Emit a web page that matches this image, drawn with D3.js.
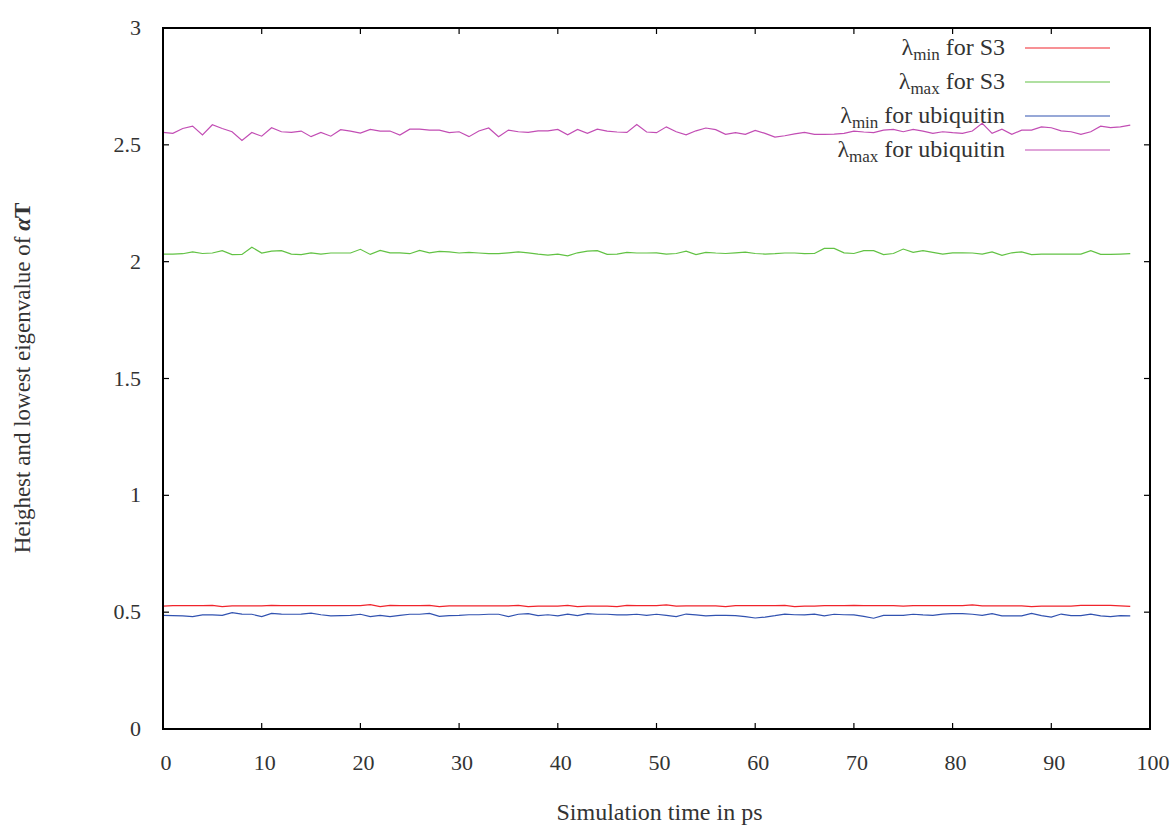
<!DOCTYPE html>
<html>
<head>
<meta charset="utf-8">
<script src="https://cdn.jsdelivr.net/npm/d3@7"></script>
<style>
  body { margin: 0; background: #fff; }
  text { font-family: "Liberation Serif", "DejaVu Serif", serif; fill: #333; }
</style>
</head>
<body>
<svg id="chart" width="1174" height="828"></svg>
<script>
// chart data (one sample per ps, 0..98)
var minS3 = [0.526,0.528,0.528,0.528,0.528,0.529,0.5235,0.527,0.527,0.527,
  0.527,0.529,0.528,0.528,0.528,0.528,0.528,0.528,0.528,0.528,
  0.528,0.532,0.5235,0.529,0.528,0.528,0.528,0.529,0.5235,0.527,
  0.527,0.527,0.527,0.527,0.527,0.527,0.529,0.5235,0.526,0.526,
  0.526,0.529,0.5235,0.526,0.526,0.526,0.5235,0.529,0.528,0.528,
  0.528,0.531,0.526,0.527,0.527,0.527,0.527,0.5235,0.528,0.528,
  0.528,0.528,0.528,0.529,0.5235,0.526,0.526,0.528,0.528,0.528,
  0.529,0.528,0.528,0.528,0.528,0.526,0.528,0.528,0.528,0.528,
  0.528,0.528,0.531,0.527,0.527,0.527,0.527,0.527,0.5235,0.526,
  0.526,0.526,0.526,0.529,0.529,0.529,0.529,0.527,0.5245];

var maxS3 = [2.0325,2.0325,2.034,2.042,2.035,2.037,2.047,2.030,2.031,2.062,
  2.037,2.045,2.047,2.0325,2.030,2.038,2.0325,2.037,2.037,2.037,
  2.053,2.031,2.048,2.038,2.038,2.034,2.048,2.038,2.044,2.042,
  2.037,2.040,2.037,2.034,2.034,2.038,2.042,2.038,2.0325,2.028,
  2.0325,2.025,2.038,2.045,2.047,2.031,2.0325,2.040,2.037,2.037,
  2.038,2.0325,2.035,2.045,2.030,2.040,2.037,2.035,2.038,2.041,
  2.035,2.0325,2.034,2.037,2.037,2.034,2.035,2.057,2.057,2.038,
  2.035,2.047,2.047,2.030,2.035,2.054,2.040,2.047,2.040,2.0325,
  2.038,2.038,2.037,2.0325,2.042,2.027,2.038,2.042,2.030,2.0325,
  2.0325,2.0325,2.0325,2.0325,2.047,2.031,2.031,2.0325,2.034];

var minUbq = [0.486,0.485,0.484,0.481,0.488,0.488,0.486,0.498,0.492,0.491,
  0.481,0.495,0.492,0.491,0.492,0.496,0.489,0.484,0.485,0.486,
  0.491,0.481,0.486,0.481,0.486,0.491,0.491,0.495,0.482,0.485,
  0.486,0.489,0.489,0.491,0.491,0.481,0.491,0.494,0.485,0.489,
  0.484,0.492,0.485,0.494,0.491,0.491,0.488,0.488,0.491,0.486,
  0.491,0.486,0.481,0.492,0.488,0.484,0.486,0.486,0.485,0.481,
  0.475,0.479,0.485,0.492,0.489,0.488,0.492,0.484,0.491,0.489,
  0.488,0.482,0.474,0.486,0.486,0.486,0.491,0.488,0.486,0.492,
  0.494,0.494,0.491,0.486,0.494,0.484,0.484,0.484,0.495,0.485,
  0.479,0.492,0.485,0.485,0.492,0.484,0.481,0.485,0.484];

var maxUbq = [2.553,2.549,2.570,2.580,2.542,2.586,2.570,2.556,2.519,2.553,
  2.537,2.573,2.556,2.553,2.559,2.535,2.553,2.537,2.565,2.559,
  2.550,2.566,2.559,2.559,2.542,2.567,2.567,2.563,2.563,2.552,
  2.556,2.535,2.559,2.572,2.535,2.563,2.556,2.553,2.560,2.560,
  2.566,2.543,2.566,2.549,2.567,2.559,2.555,2.553,2.587,2.555,
  2.552,2.577,2.556,2.543,2.560,2.572,2.565,2.545,2.552,2.545,
  2.562,2.549,2.533,2.539,2.547,2.553,2.545,2.545,2.546,2.549,
  2.559,2.555,2.552,2.563,2.566,2.556,2.566,2.559,2.549,2.556,
  2.552,2.549,2.559,2.592,2.549,2.567,2.545,2.563,2.563,2.577,
  2.573,2.560,2.556,2.545,2.556,2.580,2.574,2.577,2.584];

var seriesNames = ["min|for S3", "max|for S3", "min|for ubiquitin", "max|for ubiquitin"];
var seriesColors = ["#f0242c", "#62c244", "#3152b0", "#c24db4"];
var xTicks = [0,10,20,30,40,50,60,70,80,90,100];
var yTicks = [0,0.5,1,1.5,2,2.5,3];

// layout (plot box)
var pL = 163, pR = 1150, pT = 28, pB = 729;
var svg = d3.select("#chart");

var x = d3.scaleLinear().domain([0, 100]).range([pL, pR]);
var y = d3.scaleLinear().domain([0, 3]).range([pB, pT]);

// ticks (inward, mirrored on all sides)
var tl = 6;
var tg = svg.append("g").attr("stroke", "#000").attr("stroke-width", 1.2);
xTicks.forEach(function(t) {
  tg.append("line").attr("x1", x(t)).attr("x2", x(t)).attr("y1", pB).attr("y2", pB - tl);
  tg.append("line").attr("x1", x(t)).attr("x2", x(t)).attr("y1", pT).attr("y2", pT + tl);
});
yTicks.forEach(function(t) {
  tg.append("line").attr("x1", pL).attr("x2", pL + tl).attr("y1", y(t)).attr("y2", y(t));
  tg.append("line").attr("x1", pR).attr("x2", pR - tl).attr("y1", y(t)).attr("y2", y(t));
});

// tick labels
svg.append("g").selectAll("text").data(xTicks).enter().append("text")
  .attr("x", function(d) { return x(d) + 3; })
  .attr("y", 770)
  .attr("text-anchor", "middle")
  .style("font-size", "22px")
  .text(function(d) { return d; });

svg.append("g").selectAll("text").data(yTicks).enter().append("text")
  .attr("x", 141)
  .attr("y", function(d) { return y(d) + 7; })
  .attr("text-anchor", "end")
  .style("font-size", "22px")
  .text(function(d) { return d; });

// series lines
var series = [minS3, maxS3, minUbq, maxUbq];
var line = d3.line()
  .x(function(d, i) { return x(i); })
  .y(function(d) { return y(d); });

svg.append("g").selectAll("path").data(series).enter().append("path")
  .attr("d", line)
  .attr("fill", "none")
  .attr("stroke", function(d, i) { return seriesColors[i]; })
  .attr("stroke-width", 1.2);

// legend
var lg = svg.append("g");
seriesNames.forEach(function(n, i) {
  var parts = n.split("|");
  var ly = 48 + i * 34;
  var t = lg.append("text")
    .attr("x", 1005).attr("y", ly + 7)
    .attr("text-anchor", "end")
    .style("font-size", "24px");
  t.append("tspan").text("\u03bb");
  t.append("tspan").attr("dy", 5).style("font-size", "17px").text(parts[0]);
  t.append("tspan").attr("dy", -5).text(" " + parts[1]);
  lg.append("line")
    .attr("x1", 1025).attr("x2", 1110).attr("y1", ly).attr("y2", ly)
    .attr("stroke", seriesColors[i]).attr("stroke-width", 1.2);
});

// frame
svg.append("rect")
  .attr("x", pL).attr("y", pT)
  .attr("width", pR - pL).attr("height", pB - pT)
  .attr("fill", "none").attr("stroke", "#000").attr("stroke-width", 2);

// axis titles
svg.append("text")
  .attr("x", (pL + pR) / 2 + 3).attr("y", 820)
  .attr("text-anchor", "middle")
  .style("font-size", "24px")
  .text("Simulation time in ps");

var yl = svg.append("text")
  .attr("transform", "translate(30," + 378 + ") rotate(-90)")
  .attr("text-anchor", "middle")
  .style("font-size", "23px");
yl.append("tspan").text("Heighest and lowest eigenvalue of ");
yl.append("tspan").style("font-weight", "bold").style("font-style", "italic").text("\u03b1");
yl.append("tspan").style("font-weight", "bold").text("T");
</script>
</body>
</html>
